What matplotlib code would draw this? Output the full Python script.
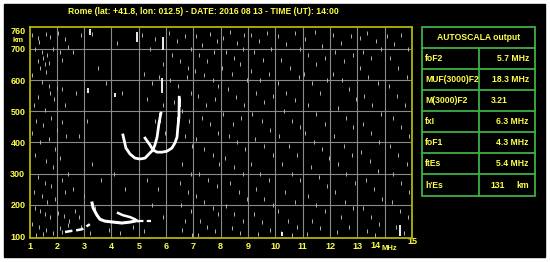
import numpy as np
from matplotlib import pyplot as plt
from matplotlib.patches import Rectangle

plt.rcParams['font.family'] = ['Liberation Sans', 'DejaVu Sans']

# --- data ---
title = 'Rome (lat: +41.8, lon: 012.5) - DATE: 2016 08 13 - TIME (UT): 14:00'

freq_ticks = list(range(1, 15))
height_ticks = [100, 200, 300, 400, 500, 600, 700, 760]

# F2 traces (ordinary / extraordinary)
o_freq = [4.42, 4.53, 4.68, 4.86, 5.04, 5.23, 5.37, 5.52, 5.59, 5.67, 5.74, 5.81]
o_height = [424, 382, 363, 350, 347, 350, 363, 376, 392, 417, 462, 494]
x_freq = [5.23, 5.41, 5.52, 5.67, 5.85, 6.03, 6.21, 6.32, 6.40, 6.43, 6.47, 6.48]
x_height = [414, 392, 376, 369, 369, 372, 382, 398, 417, 449, 481, 545]

# E / Es traces
e_freq = [3.29, 3.33, 3.47, 3.58, 3.76, 4.06, 4.38, 4.68, 4.86]
e_height = [206, 190, 167, 154, 148, 145, 142, 145, 148]
es_freq = [4.24, 4.42, 4.68, 4.86, 4.97]
es_height = [174, 167, 161, 154, 148]
es_tail_freq = [5.0, 5.45]
es_tail_height = [148, 148]
low_freq = [2.30, 2.48, 2.74, 2.92, 3.10, 3.21]
low_height = [113, 116, 119, 122, 132, 138]

# bright vertical echo streaks: freq, bottom, top
streak_freq = [5.88, 5.85, 6.50, 5.78, 6.45, 4.13, 3.15, 4.93, 3.20, 14.56, 10.24]
streak_lo = [696, 558, 513, 462, 449, 545, 560, 722, 745, 100, 100]
streak_hi = [738, 606, 542, 494, 481, 558, 575, 754, 765, 135, 114]

# background noise dots
noise = [
    (1.1, 745), (1.3, 735), (1.35, 722), (1.6, 748), (1.75, 738), (2.05, 752), (2.3, 730),
    (1.2, 700), (1.45, 690), (1.5, 672), (1.65, 680), (1.3, 660), (1.55, 650), (1.4, 640),
    (1.7, 655), (1.6, 625), (1.85, 700), (2.1, 690), (2.4, 705), (2.2, 665), (1.1, 615),
    (1.45, 595), (1.7, 580), (1.75, 560), (2.0, 575), (2.2, 570), (1.9, 540), (1.3, 545),
    (1.15, 520), (1.55, 505), (2.3, 520), (1.25, 470), (1.5, 455), (1.8, 480), (2.0, 440),
    (2.2, 465), (1.1, 430), (1.4, 400), (1.7, 410), (1.95, 380), (2.35, 420), (1.2, 360),
    (1.6, 340), (1.85, 320), (2.1, 350), (2.4, 300), (1.3, 290), (1.55, 270), (1.8, 260),
    (2.2, 280), (1.15, 240), (1.45, 230), (1.65, 210), (1.95, 220), (2.3, 240), (1.2, 190),
    (1.4, 180), (1.55, 170), (1.75, 160), (2.05, 175), (2.25, 165), (1.1, 140), (1.35, 130),
    (1.6, 120), (1.85, 110), (2.1, 125), (2.4, 135), (1.25, 105), (1.5, 108), (2.2, 112),
    (2.45, 150), (2.6, 250), (2.65, 180), (2.8, 160),
    (2.6, 690), (2.9, 745), (3.3, 748), (2.7, 560), (3.1, 470), (3.5, 640), (3.8, 590),
    (4.2, 720), (4.4, 560), (2.8, 420), (3.3, 330), (3.6, 280), (4.1, 300), (4.5, 250),
    (3.0, 230), (3.4, 190), (3.9, 120), (4.3, 110), (4.8, 130), (2.9, 130), (3.2, 110),
    (5.1, 745), (5.4, 700), (5.6, 730), (5.9, 650), (5.2, 620), (5.5, 590), (5.75, 610),
    (5.3, 540), (5.9, 520), (5.6, 470), (5.95, 430), (5.3, 280), (5.7, 250), (5.5, 200),
    (5.9, 160), (5.2, 115),
    (6.1, 750), (6.4, 725), (6.7, 740), (6.9, 700), (6.2, 680), (6.5, 660), (6.8, 640),
    (6.15, 600), (6.45, 580), (6.75, 610), (6.9, 560), (6.3, 530), (6.6, 500), (6.85, 470),
    (6.7, 420), (6.95, 390), (6.6, 330), (6.9, 300), (6.5, 270), (6.8, 240), (6.55, 200),
    (6.9, 180), (6.7, 150), (6.6, 120), (6.95, 105),
    (7.1, 740), (7.3, 712), (7.6, 748), (7.85, 725), (7.2, 680), (7.5, 660), (7.75, 690),
    (7.05, 630), (7.4, 615), (7.7, 600), (7.9, 580), (7.15, 550), (7.45, 520), (7.8, 540),
    (7.3, 480), (7.6, 460), (7.9, 430), (7.1, 410), (7.4, 380), (7.7, 360), (7.95, 330),
    (7.2, 300), (7.55, 280), (7.85, 260), (7.1, 230), (7.4, 210), (7.7, 190), (7.9, 170),
    (7.25, 150), (7.5, 130), (7.8, 115), (7.15, 105),
    (8.1, 735), (8.35, 755), (8.6, 720), (8.85, 745), (8.2, 690), (8.5, 670), (8.8, 700),
    (8.05, 640), (8.4, 620), (8.7, 650), (8.95, 600), (8.25, 570), (8.55, 545), (8.85, 520),
    (8.1, 490), (8.45, 460), (8.75, 480), (8.3, 420), (8.6, 400), (8.9, 380), (8.15, 350),
    (8.5, 320), (8.8, 300), (8.35, 270), (8.65, 240), (8.95, 220), (8.2, 195), (8.5, 170),
    (8.8, 150), (8.4, 125), (8.7, 110),
    (9.1, 745), (9.4, 725), (9.7, 750), (9.2, 690), (9.55, 665), (9.85, 700), (9.1, 630),
    (9.45, 600), (9.75, 620), (9.3, 560), (9.6, 530), (9.9, 550), (9.15, 490), (9.5, 470),
    (9.8, 440), (9.25, 410), (9.6, 390), (9.9, 360), (9.1, 330), (9.45, 300), (9.75, 280),
    (9.3, 250), (9.6, 220), (9.9, 200), (9.2, 170), (9.5, 145), (9.8, 120), (9.35, 108),
    (10.1, 740), (10.4, 715), (10.7, 750), (10.9, 700), (10.2, 665), (10.55, 640),
    (10.85, 610), (10.1, 590), (10.4, 560), (10.7, 535), (10.3, 500), (10.6, 470),
    (10.9, 450), (10.15, 420), (10.5, 390), (10.8, 360), (10.25, 330), (10.6, 300),
    (10.9, 280), (10.35, 240), (10.7, 210), (10.1, 180), (10.45, 150), (10.8, 130),
    (10.2, 110), (10.6, 105),
    (11.1, 730), (11.45, 755), (11.7, 710), (11.2, 680), (11.5, 650), (11.8, 670),
    (11.05, 620), (11.35, 590), (11.65, 560), (11.9, 600), (11.2, 520), (11.5, 490),
    (11.8, 460), (11.1, 430), (11.4, 400), (11.7, 380), (11.95, 350), (11.3, 320),
    (11.6, 290), (11.9, 260), (11.2, 230), (11.5, 200), (11.8, 180), (11.35, 150),
    (11.65, 125), (11.15, 108),
    (12.1, 745), (12.4, 720), (12.75, 740), (12.2, 690), (12.5, 660), (12.85, 680),
    (12.1, 620), (12.45, 600), (12.7, 570), (12.95, 540), (12.3, 510), (12.6, 480),
    (12.85, 450), (12.15, 420), (12.5, 390), (12.8, 360), (12.3, 330), (12.6, 300),
    (12.9, 270), (12.2, 240), (12.55, 210), (12.85, 190), (12.4, 160), (12.7, 130),
    (12.25, 112),
    (13.1, 735), (13.35, 750), (13.7, 725), (13.2, 690), (13.5, 670), (13.85, 700),
    (13.1, 640), (13.4, 610), (13.75, 590), (13.25, 550), (13.55, 520), (13.85, 490),
    (13.2, 460), (13.5, 430), (13.8, 400), (13.15, 370), (13.45, 340), (13.75, 310),
    (13.3, 280), (13.6, 250), (13.9, 220), (13.2, 190), (13.5, 160), (13.8, 140),
    (13.35, 115), (13.65, 105),
    (14.1, 740), (14.35, 715), (14.6, 745), (14.85, 700), (14.2, 670), (14.5, 640),
    (14.8, 610), (14.15, 580), (14.45, 550), (14.75, 520), (14.3, 480), (14.6, 450),
    (14.9, 420), (14.2, 390), (14.5, 360), (14.8, 330), (14.3, 300), (14.6, 270),
    (14.9, 240), (14.25, 210), (14.55, 180), (14.85, 160), (14.4, 130), (14.7, 110),
]

# autoscala table
param_names = ['foF2', 'MUF(3000)F2', 'M(3000)F2', 'fxI', 'foF1', 'ftEs', "h'Es"]
param_values = ['5.7 MHz', '18.3 MHz', '3.21', '6.3 MHz', '4.3 MHz', '5.4 MHz', '131']

YEL = '#ffff4a'
GRN = '#3cb043'
W, H = 550, 262
FS = 6.2

fig = plt.figure(figsize=(5.5, 2.62), dpi=100, facecolor='white')

# background layer in pixel coords
bg = fig.add_axes([0, 0, 1, 1], zorder=0)
bg.set_xlim(0, W)
bg.set_ylim(H, 0)
bg.axis('off')
bg.add_patch(Rectangle((4, 4), 541, 253, color='black'))
bg.text(203, 11, title, color=YEL, fontsize=FS, fontweight='bold', ha='center', va='center')

# table
tx0, tx1, tdiv = 422, 535, 479
row_y = [27, 48, 69, 90, 111, 132, 153, 174, 196]
bg.add_patch(Rectangle((tx0, row_y[0]), tx1 - tx0, row_y[-1] - row_y[0], fill=False, ec=GRN, lw=1.3))
for yy in row_y[1:-1]:
    bg.plot([tx0, tx1], [yy, yy], color=GRN, lw=1.3)
bg.plot([tdiv, tdiv], [row_y[1], row_y[-1]], color=GRN, lw=1.3)
bg.text((tx0 + tx1) / 2, (row_y[0] + row_y[1]) / 2, 'AUTOSCALA output', color=YEL,
        fontsize=FS, fontweight='bold', ha='center', va='center')
for i, (nm, val) in enumerate(zip(param_names, param_values)):
    yc = (row_y[i + 1] + row_y[i + 2]) / 2
    bg.text(425, yc, nm, color=YEL, fontsize=FS, fontweight='bold', va='center')
    if nm == 'M(3000)F2':
        bg.text(491, yc, val, color=YEL, fontsize=FS, fontweight='bold', va='center')
    elif nm == "h'Es":
        bg.text(490, yc, val, color=YEL, fontsize=FS, fontweight='bold', va='center')
        bg.text(516, yc, 'km', color=YEL, fontsize=FS, fontweight='bold', va='center')
    else:
        bg.text(529, yc, val, color=YEL, fontsize=FS, fontweight='bold', va='center', ha='right')

# ionogram axes
ax = fig.add_axes([29.5 / W, 24 / H, (412 - 29.5) / W, (238 - 27) / H], zorder=1)
ax.set_facecolor('black')
ax.set_xlim(1, 15)
ax.set_ylim(94, 770)
for f in range(2, 15):
    ax.axvline(f, color='#8a8a8a', lw=0.8, zorder=1)
for h in range(200, 800, 100):
    ax.axhline(h, color='#8a8a8a', lw=0.8, zorder=1)
for s in ax.spines.values():
    s.set_color('#b4b400')
    s.set_linewidth(1.3)

nf = [p[0] for p in noise]
nh = [p[1] for p in noise]
ax.plot(nf, nh, ls='none', marker='|', ms=2.2, mew=0.7, color='#b4b4b4', zorder=2)
ax.vlines(streak_freq, streak_lo, streak_hi, color='white', lw=1.3, zorder=3)

ax.plot(o_freq, o_height, color='white', lw=2, zorder=4)
ax.plot(x_freq, x_height, color='white', lw=2, zorder=4)
ax.plot(e_freq, e_height, color='white', lw=2.2, zorder=4)
ax.plot(es_freq, es_height, color='white', lw=1.8, zorder=4)
ax.plot(es_tail_freq, es_tail_height, color='white', lw=1.6, ls=(0, (2, 1.5)), zorder=4)
ax.plot(low_freq, low_height, color='white', lw=1.8, ls=(0, (3, 1.5)), zorder=4)

# the "14" label sits left of its grid line to make room for the unit
xlabels = [str(f) for f in freq_ticks]
xlabels[-1] = ''
ax.set_xticks(freq_ticks)
ax.set_xticklabels(xlabels, color=YEL, fontsize=FS + 0.3, fontweight='bold')
ax.set_yticks(height_ticks)
ax.set_yticklabels([str(h) for h in height_ticks], color=YEL, fontsize=FS + 0.3, fontweight='bold')
ax.tick_params(length=0, pad=3)

bg.text(18, 41, 'km', color=YEL, fontsize=5.5, fontweight='bold', ha='center', va='center')
bg.text(375, 245, '14', color=YEL, fontsize=FS + 0.3, fontweight='bold', ha='center', va='center')
bg.text(389, 249, 'MHz', color=YEL, fontsize=5.5, fontweight='bold', ha='center', va='center')
bg.text(412, 242, '15', color=YEL, fontsize=FS + 0.3, fontweight='bold', ha='center', va='center')

fig.savefig('out.png', dpi=100, facecolor='white')
